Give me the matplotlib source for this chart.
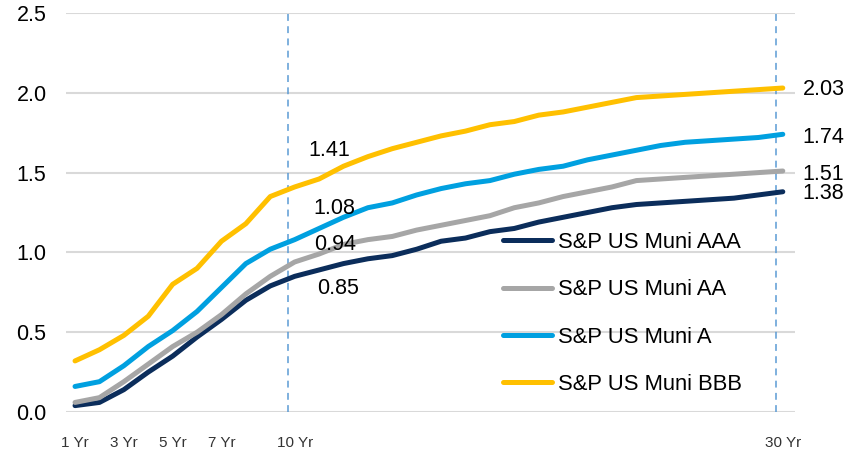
import numpy as np
import matplotlib
matplotlib.use('Agg')
import matplotlib.pyplot as plt

plt.rcParams['font.family'] = ['Liberation Sans', 'DejaVu Sans']

# 資料 (1~30 年)
years = np.arange(1, 31)
aaa = [0.04, 0.06, 0.14, 0.25, 0.35, 0.47, 0.58, 0.70, 0.79, 0.85,
       0.89, 0.93, 0.96, 0.98, 1.02, 1.07, 1.09, 1.13, 1.15, 1.19,
       1.22, 1.25, 1.28, 1.30, 1.31, 1.32, 1.33, 1.34, 1.36, 1.38]
aa = [0.06, 0.09, 0.19, 0.30, 0.41, 0.50, 0.61, 0.74, 0.85, 0.94,
      0.99, 1.05, 1.08, 1.10, 1.14, 1.17, 1.20, 1.23, 1.28, 1.31,
      1.35, 1.38, 1.41, 1.45, 1.46, 1.47, 1.48, 1.49, 1.50, 1.51]
a = [0.16, 0.19, 0.29, 0.41, 0.51, 0.63, 0.78, 0.93, 1.02, 1.08,
     1.15, 1.22, 1.28, 1.31, 1.36, 1.40, 1.43, 1.45, 1.49, 1.52,
     1.54, 1.58, 1.61, 1.64, 1.67, 1.69, 1.70, 1.71, 1.72, 1.74]
bbb = [0.32, 0.39, 0.48, 0.60, 0.80, 0.90, 1.07, 1.18, 1.35, 1.41,
       1.46, 1.54, 1.60, 1.65, 1.69, 1.73, 1.76, 1.80, 1.82, 1.86,
       1.88, 1.91, 1.94, 1.97, 1.98, 1.99, 2.00, 2.01, 2.02, 2.03]
series_names = ['S&P US Muni AAA', 'S&P US Muni AA', 'S&P US Muni A', 'S&P US Muni BBB']
tick_years = [1, 3, 5, 7, 10, 30]
tick_labels = ['1 Yr', '3 Yr', '5 Yr', '7 Yr', '10 Yr', '30 Yr']
marked_years = [10, 30]

colors = ['#0B2D5B', '#A6A6A6', '#00A0E0', '#FFC000']
series = [aaa, aa, a, bbb]

fig = plt.figure(figsize=(8.62, 4.54), dpi=100)
ax = fig.add_axes([66 / 862, 1 - 412 / 454, (795 - 66) / 862, (412 - 13) / 454])

for vals, name, c in zip(series, series_names, colors):
    ax.plot(years, vals, color=c, lw=3.6, label=name, solid_capstyle='round',
            solid_joinstyle='round', zorder=3)

# 虛線 (10 年、30 年)
for yr in marked_years:
    ax.axvline(yr - 0.27, color='#5B9BD5', lw=1.1, ls=(0, (4.5, 3.5)), zorder=2)

# 數字標籤
i10 = marked_years[0] - 1
offs10 = [(43, -12), (40, 17), (40, 31), (35, 36)]
for vals, off in zip(series, offs10):
    ax.annotate(f'{vals[i10]:.2f}', xy=(years[i10], vals[i10]), xytext=off,
                textcoords='offset pixels', ha='center', va='center', fontsize=15.5)
offs30 = [(20, -2), (20, -3), (20, -3), (20, -1)]
for vals, off in zip(series, offs30):
    ax.annotate(f'{vals[-1]:.2f}', xy=(years[-1], vals[-1]), xytext=off,
                textcoords='offset pixels', ha='left', va='center', fontsize=15.5,
                annotation_clip=False)

ax.set_xlim(0.63, 30.5)
ax.set_ylim(0, 2.5)
ax.set_yticks(np.arange(0, 2.51, 0.5))
ax.set_yticklabels([f'{v:.1f}' for v in np.arange(0, 2.51, 0.5)], fontsize=15.5)
ax.set_xticks(tick_years)
ax.set_xticklabels(tick_labels, fontsize=11, color='#333333')
ax.tick_params(axis='x', length=0, pad=17)
ax.tick_params(axis='y', length=0, pad=14)
ax.grid(axis='y', color='#D9D9D9', lw=1.5, zorder=0)
for s in ax.spines.values():
    s.set_visible(False)

ax.legend(loc='upper left', bbox_to_anchor=(503 / 862, 1 - 232 / 454),
          bbox_transform=fig.transFigure, frameon=False, fontsize=15.8,
          handlelength=2.25, handletextpad=0.25, labelspacing=1.2,
          borderpad=0, borderaxespad=0)

fig.savefig('out.png', dpi=100)
